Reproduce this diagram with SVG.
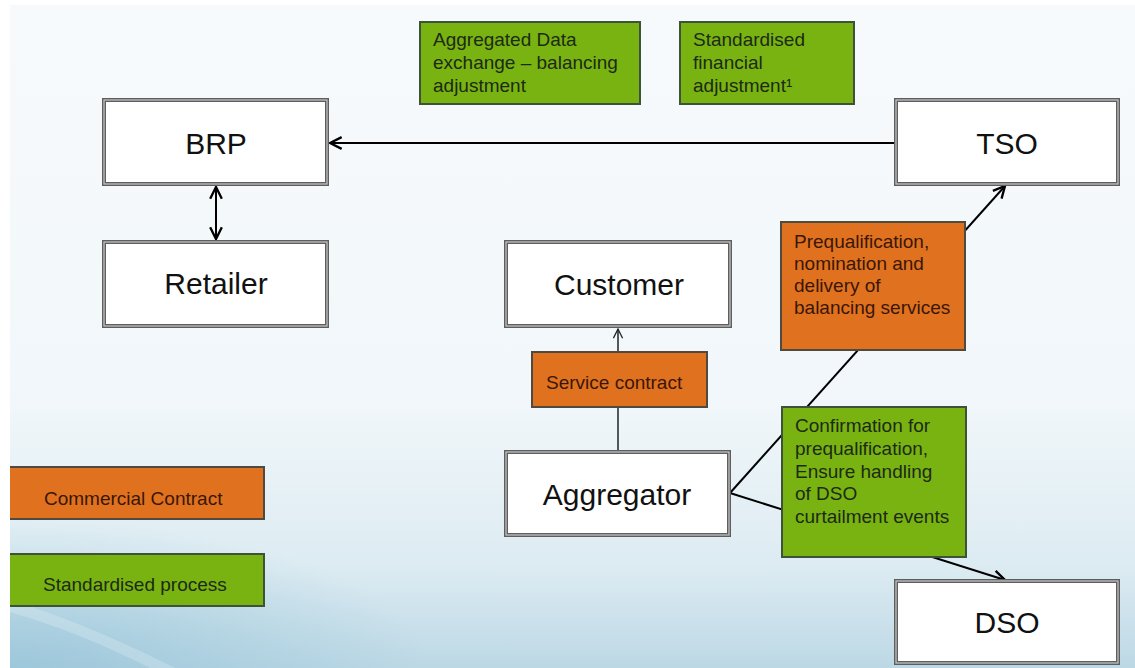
<svg xmlns="http://www.w3.org/2000/svg" width="1135" height="668" viewBox="0 0 1135 668">
  <defs>
    <linearGradient id="bg" x1="0" y1="0" x2="0" y2="1">
      <stop offset="0" stop-color="#f7fafd"/>
      <stop offset="0.6" stop-color="#f1f7fa"/>
      <stop offset="0.85" stop-color="#dcebf2"/>
      <stop offset="1" stop-color="#bcd8e5"/>
    </linearGradient>
    <radialGradient id="corner" cx="0" cy="1" r="0.6" gradientUnits="objectBoundingBox">
      <stop offset="0" stop-color="#8fc0d6" stop-opacity="0.7"/>
      <stop offset="1" stop-color="#8fc0d6" stop-opacity="0"/>
    </radialGradient>
    <marker id="chev" viewBox="0 0 12 12" refX="11" refY="6" markerWidth="14" markerHeight="14" markerUnits="userSpaceOnUse" orient="auto-start-reverse">
      <path d="M1,1 L11,6 L1,11" fill="none" stroke="#000" stroke-width="2"/>
    </marker>
    <marker id="chevSmall" viewBox="0 0 12 12" refX="11" refY="6" markerWidth="11" markerHeight="11" markerUnits="userSpaceOnUse" orient="auto">
      <path d="M1,1 L11,6 L1,11" fill="none" stroke="#222" stroke-width="1.4"/>
    </marker>
  </defs>
  <style>
    .node-outer { fill: #ffffff; stroke: #5e5e5e; stroke-width: 4; }
    .node-inner { fill: none; stroke: #c9c9c9; stroke-width: 1.2; }
    .node-text { font-family: "Liberation Sans", Arial, sans-serif; font-size: 30px; fill: #111; text-anchor: middle; }
    .green { fill: #79b312; stroke: #3d5238; stroke-width: 2; }
    .orange { fill: #e0721f; stroke: #4f4a40; stroke-width: 2; }
    .label { font-family: "Liberation Sans", Arial, sans-serif; font-size: 19px; }
    .on-green { fill: #1c2a14; }
    .on-orange { fill: #3a1608; }
    .conn { fill: none; stroke: #000; stroke-width: 2; }
  </style>

  <!-- background -->
  <rect x="0" y="0" width="1135" height="668" fill="#ffffff"/>
  <rect x="10" y="5" width="1125" height="663" fill="url(#bg)"/>
  <rect x="10" y="420" width="700" height="248" fill="url(#corner)"/>
  <path d="M10,600 C60,615 120,640 175,668 L150,668 C105,645 55,625 10,612 Z" fill="#ffffff" opacity="0.2"/>

  <!-- connectors -->
  <g id="connectors">
    <line class="conn" x1="895" y1="143" x2="330" y2="143" marker-end="url(#chev)"/>
    <line class="conn" x1="216" y1="187" x2="216" y2="239" marker-start="url(#chev)" marker-end="url(#chev)"/>
    <line x1="618" y1="451" x2="618" y2="329" stroke="#222" stroke-width="1.5" marker-end="url(#chevSmall)"/>
    <line class="conn" x1="730" y1="493" x2="1005" y2="186" marker-end="url(#chev)"/>
    <line class="conn" x1="730" y1="493" x2="1005" y2="580" marker-end="url(#chev)"/>
  </g>

  <!-- actors -->
  <g id="brp">
    <rect class="node-outer" x="104" y="100" width="223" height="84"/>
    <rect class="node-inner" x="104" y="100" width="223" height="84"/>
    <text class="node-text" x="216" y="154">BRP</text>
  </g>
  <g id="retailer">
    <rect class="node-outer" x="104" y="242" width="223" height="84"/>
    <rect class="node-inner" x="104" y="242" width="223" height="84"/>
    <text class="node-text" x="216" y="294">Retailer</text>
  </g>
  <g id="tso">
    <rect class="node-outer" x="896" y="100" width="222" height="84"/>
    <rect class="node-inner" x="896" y="100" width="222" height="84"/>
    <text class="node-text" x="1007" y="154">TSO</text>
  </g>
  <g id="customer">
    <rect class="node-outer" x="506" y="242" width="224" height="84"/>
    <rect class="node-inner" x="506" y="242" width="224" height="84"/>
    <text class="node-text" x="619" y="295">Customer</text>
  </g>
  <g id="aggregator">
    <rect class="node-outer" x="506" y="452" width="223" height="83"/>
    <rect class="node-inner" x="506" y="452" width="223" height="83"/>
    <text class="node-text" x="617" y="505">Aggregator</text>
  </g>
  <g id="dso">
    <rect class="node-outer" x="896" y="581" width="222" height="82"/>
    <rect class="node-inner" x="896" y="581" width="222" height="82"/>
    <text class="node-text" x="1007" y="633">DSO</text>
  </g>

  <!-- process and contract labels -->
  <g id="data-exchange">
    <rect class="green" x="420" y="22" width="220" height="82" stroke-width="3"/>
    <text class="label on-green" x="433" y="46">Aggregated Data</text>
    <text class="label on-green" x="433" y="69">exchange – balancing</text>
    <text class="label on-green" x="433" y="92">adjustment</text>
  </g>
  <g id="financial-adjustment">
    <rect class="green" x="680" y="22" width="174" height="82" stroke-width="1.5"/>
    <text class="label on-green" x="693" y="46">Standardised</text>
    <text class="label on-green" x="693" y="69">financial</text>
    <text class="label on-green" x="693" y="92">adjustment¹</text>
  </g>
  <g id="service-contract">
    <rect class="orange" x="532" y="352" width="175" height="55"/>
    <text class="label on-orange" x="546" y="389">Service contract</text>
  </g>
  <g id="balancing-services">
    <rect class="orange" x="781" y="222" width="184" height="128"/>
    <text class="label on-orange" x="794" y="248">Prequalification,</text>
    <text class="label on-orange" x="794" y="270">nomination and</text>
    <text class="label on-orange" x="794" y="292">delivery of</text>
    <text class="label on-orange" x="794" y="314">balancing services</text>
  </g>
  <g id="dso-confirmation">
    <rect class="green" x="782" y="407" width="184" height="150"/>
    <text class="label on-green" x="795" y="432">Confirmation for</text>
    <text class="label on-green" x="795" y="455">prequalification,</text>
    <text class="label on-green" x="795" y="478">Ensure handling</text>
    <text class="label on-green" x="795" y="500">of DSO</text>
    <text class="label on-green" x="795" y="523">curtailment events</text>
  </g>

  <!-- legend -->
  <g id="legend-commercial">
    <rect class="orange" x="8" y="467" width="256" height="52"/>
    <text class="label on-orange" x="44" y="505">Commercial Contract</text>
  </g>
  <g id="legend-standardised">
    <rect class="green" x="8" y="554" width="256" height="52"/>
    <text class="label on-green" x="43" y="591">Standardised process</text>
  </g>
  <rect x="0" y="440" width="10" height="228" fill="#ffffff"/>
</svg>
